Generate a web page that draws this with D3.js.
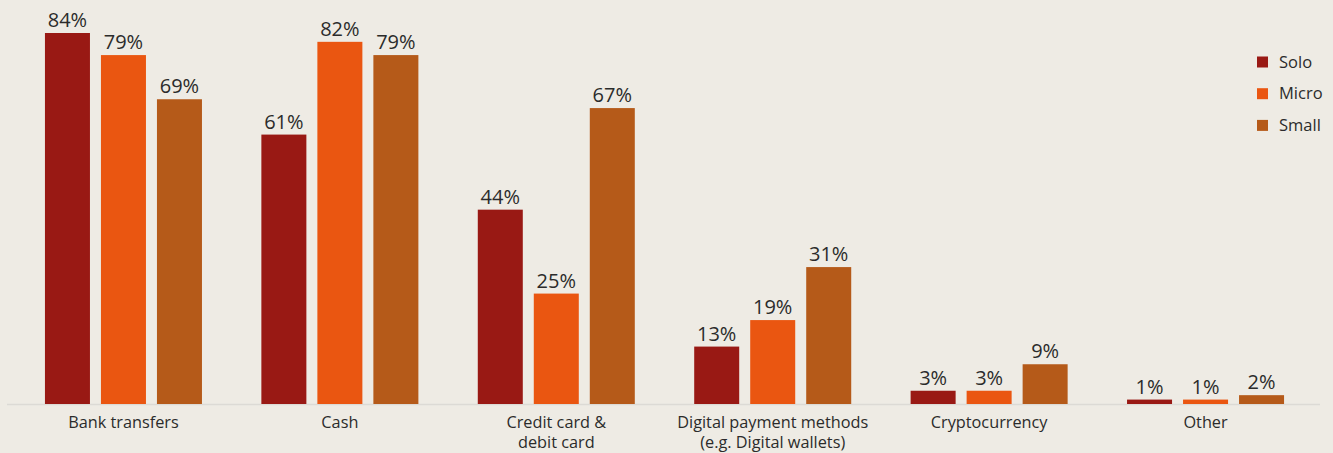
<!DOCTYPE html>
<html>
<head>
<meta charset="utf-8">
<script src="https://cdn.jsdelivr.net/npm/d3@7"></script>
<style>
  html, body { margin: 0; padding: 0; background: #eeebe4; }
  svg { display: block; }
  text { font-family: "Open Sans", "Noto Sans", sans-serif; fill: #2b2b2b; }
</style>
</head>
<body>
<svg id="chart" width="1333" height="453"></svg>
<script>
// Payment methods accepted, by business size
const categories = [
  ["Bank transfers"],
  ["Cash"],
  ["Credit card &", "debit card"],
  ["Digital payment methods", "(e.g. Digital wallets)"],
  ["Cryptocurrency"],
  ["Other"]
];
const series = ["Solo", "Micro", "Small"];
const solo  = [84, 61, 44, 13, 3, 1];
const micro = [79, 82, 25, 19, 3, 1];
const small = [69, 79, 67, 31, 9, 2];
const colors = ["#991914", "#ea5611", "#b55a19"];

const values = [solo, micro, small];
const keys = categories.map(c => c.join(" "));

const svg = d3.select("#chart");

const baseY = 404;
const y = d3.scaleLinear().domain([0, 84]).range([baseY, 33]);

const x0 = d3.scaleBand()
  .domain(keys)
  .range([15.3, 1313.7])
  .paddingInner(0.2745)
  .paddingOuter(0.137);

const x1 = d3.scaleBand()
  .domain(series)
  .range([0, x0.bandwidth()])
  .paddingInner(0.1964)
  .paddingOuter(0);

// baseline
svg.append("line")
  .attr("x1", 7).attr("x2", 1320)
  .attr("y1", baseY + 0.5).attr("y2", baseY + 0.5)
  .attr("stroke", "#dcdad5").attr("stroke-width", 1.5);

const groups = svg.append("g").selectAll("g")
  .data(keys)
  .join("g")
  .attr("transform", d => `translate(${x0(d)},0)`);

groups.each(function(k, ci) {
  const g = d3.select(this);
  series.forEach((s, si) => {
    const v = values[si][ci];
    g.append("rect")
      .attr("x", x1(s))
      .attr("y", y(v))
      .attr("width", x1.bandwidth())
      .attr("height", baseY - y(v))
      .attr("fill", colors[si]);
    g.append("text")
      .attr("x", x1(s) + x1.bandwidth() / 2)
      .attr("y", y(v) - 6)
      .attr("text-anchor", "middle")
      .attr("font-size", 20)
      .text(v + "%");
  });
});

// category labels, one text per line
const xAxis = d3.axisBottom(x0).tickSize(0).tickFormat("");
const axisG = svg.append("g")
  .attr("transform", `translate(0,${baseY})`)
  .call(xAxis);
axisG.select(".domain").remove();
axisG.selectAll(".tick").each(function(k, i) {
  const tick = d3.select(this);
  categories[i].forEach((line, li) => {
    tick.append("text")
      .attr("text-anchor", "middle")
      .attr("font-size", 16.3)
      .attr("fill", "#2b2b2b")
      .attr("x", 0)
      .attr("y", 24 + li * 19.5)
      .text(line);
  });
});

// legend
const legend = svg.append("g").attr("transform", "translate(1257,56.5)");
series.forEach((s, i) => {
  const row = legend.append("g").attr("transform", `translate(0,${i * 31.7})`);
  row.append("rect").attr("width", 11).attr("height", 11).attr("fill", colors[i]);
  row.append("text")
    .attr("x", 22).attr("y", 11)
    .attr("font-size", 16.5)
    .text(s);
});
</script>
</body>
</html>
